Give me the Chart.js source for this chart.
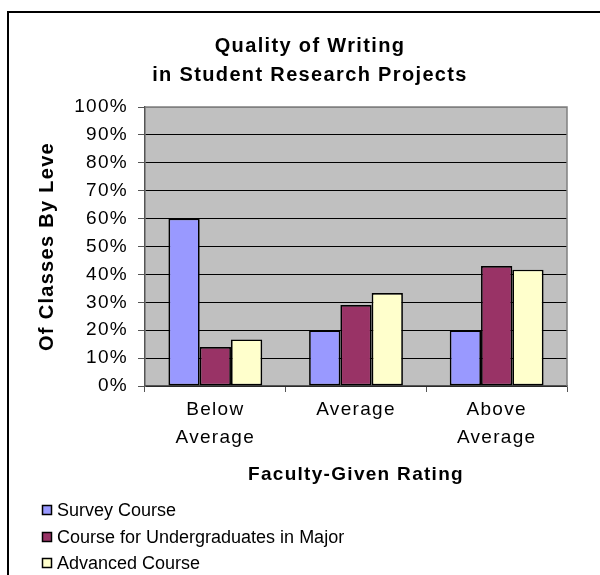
<!DOCTYPE html>
<html>
<head>
<meta charset="utf-8">
<script src="https://cdn.jsdelivr.net/npm/chart.js@4.4.1/dist/chart.umd.min.js"></script>
<style>
  html, body { margin: 0; padding: 0; background: #fff; }
</style>
</head>
<body>
<canvas id="board" width="600" height="575"></canvas>
<script>
// data
let chartTitle = ["Quality of Writing", "in Student Research Projects"];
let categories = [["Below", "Average"], "Average", ["Above", "Average"]];
let seriesNames = ["Survey Course", "Course for Undergraduates in Major", "Advanced Course"];
let surveyCourse = [60, 20, 20];
let undergradMajor = [14, 29, 43];
let advancedCourse = [16.7, 33.3, 41.7];
let yTickValues = [0, 10, 20, 30, 40, 50, 60, 70, 80, 90, 100];

let colors = ["#9999FF", "#993366", "#FFFFCC"];
let fam = "'Liberation Sans', Arial, sans-serif";
Chart.defaults.font.family = fam;
Chart.defaults.color = "#000";

// grey plot area, its top/right border, outer frame, title and legend list
let decor = {
  id: "decor",
  beforeDraw(chart) {
    let a = chart.chartArea;
    let ctx = chart.ctx;
    ctx.fillStyle = "#C0C0C0";
    ctx.fillRect(a.left, a.top, a.right - a.left, a.bottom - a.top);
    // the old office fonts run wider than Liberation Sans
    ctx.letterSpacing = "1.3px";
  },
  afterDraw(chart) {
    let a = chart.chartArea;
    let ctx = chart.ctx;
    ctx.save();
    ctx.strokeStyle = "#808080";
    ctx.lineWidth = 1.5;
    ctx.beginPath();
    ctx.moveTo(a.left, a.top);
    ctx.lineTo(a.right, a.top);
    ctx.lineTo(a.right, a.bottom);
    ctx.stroke();

    ctx.strokeStyle = "#000";
    ctx.lineWidth = 2;
    ctx.strokeRect(8, 12, 700, 700);

    // title
    ctx.letterSpacing = "1.35px";
    ctx.fillStyle = "#000";
    ctx.font = "bold 20px " + fam;
    ctx.textAlign = "center";
    ctx.textBaseline = "middle";
    ctx.fillText(chartTitle[0], 310, 46);
    ctx.fillText(chartTitle[1], 310, 75);

    // legend, one item per row
    ctx.letterSpacing = "0px";
    let rows = [510, 537, 563];
    ctx.font = "18px " + fam;
    ctx.textAlign = "left";
    chart.data.datasets.forEach((ds, i) => {
      let y = rows[i];
      ctx.fillStyle = ds.backgroundColor;
      ctx.fillRect(42, y - 5, 10, 10);
      ctx.strokeStyle = "#000";
      ctx.lineWidth = 1.5;
      ctx.strokeRect(42.5, y - 4.5, 9, 9);
      ctx.fillStyle = "#000";
      ctx.fillText(ds.label, 57, y + 1);
    });
    ctx.restore();
    ctx.letterSpacing = "0px";
  }
};

let canv = document.getElementById("board");
let chart = new Chart(canv, {
  type: "bar",
  data: {
    labels: categories,
    datasets: [
      { label: seriesNames[0], data: surveyCourse, backgroundColor: colors[0] },
      { label: seriesNames[1], data: undergradMajor, backgroundColor: colors[1] },
      { label: seriesNames[2], data: advancedCourse, backgroundColor: colors[2] }
    ]
  },
  options: {
    responsive: false,
    animation: false,
    layout: { padding: { left: 0, right: 33, top: 107, bottom: 88 } },
    datasets: {
      bar: {
        categoryPercentage: 0.667,
        barPercentage: 1.0,
        borderColor: "#000",
        borderWidth: 1.7,
        borderSkipped: false
      }
    },
    plugins: {
      legend: { display: false },
      tooltip: { enabled: false },
      title: { display: false }
    },
    scales: {
      x: {
        afterFit(scale) { scale.height = 101; },
        grid: { drawOnChartArea: false, tickLength: 6, color: "#555", tickColor: "#555" },
        border: { color: "#555", width: 1.5 },
        ticks: {
          font: { size: 19, lineHeight: 1.474 },
          color: "#000",
          padding: 4,
          maxRotation: 0,
          autoSkip: false
        },
        title: {
          display: true,
          text: "Faculty-Given Rating",
          font: { size: 19, weight: "bold" },
          color: "#000",
          padding: { top: 0, bottom: 1 }
        }
      },
      y: {
        min: 0,
        max: 100,
        afterFit(scale) { scale.width = 145; },
        afterBuildTicks(scale) { scale.ticks = yTickValues.map(v => ({ value: v })); },
        grid: {
          color: ctx => (ctx.tick && ctx.tick.value === 100 ? "#808080" : "#000"),
          tickColor: "#555",
          tickLength: 7
        },
        border: { color: "#555", width: 1.5 },
        ticks: {
          font: { size: 19 },
          color: "#000",
          padding: 10,
          callback: v => v + "%"
        },
        title: {
          display: true,
          text: "Of Classes By Leve",
          font: { size: 20, weight: "bold" },
          color: "#000",
          padding: { top: 35, bottom: 0 }
        }
      }
    }
  },
  plugins: [decor]
});
</script>
</body>
</html>
